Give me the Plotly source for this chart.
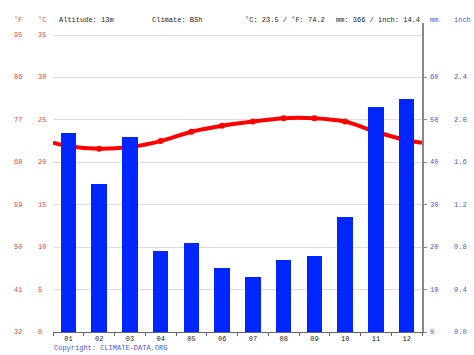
import plotly.graph_objects as go

months = ["01", "02", "03", "04", "05", "06", "07", "08", "09", "10", "11", "12"]
precip_mm = [47, 35, 46, 19, 21, 15, 13, 17, 18, 27, 53, 55]
temp_c = [21.9, 21.6, 21.8, 22.5, 23.6, 24.3, 24.8, 25.2, 25.2, 24.8, 23.6, 22.6]
temp_edge_c = [22.3, 22.3]  # line value read at the left and right plot edges

c_ticks = [0, 5, 10, 15, 20, 25, 30, 35]
f_labels = ["32", "41", "50", "59", "68", "77", "86", "95"]
mm_ticks = [0, 10, 20, 30, 40, 50, 60]
inch_labels = ["0.0", "0.4", "0.8", "1.2", "1.6", "2.0", "2.4"]

header = [
    ("°F", 13, "#e3444a"),
    ("°C", 37, "#e3444a"),
    ("Altitude: 13m", 58, "#222222"),
    ("Climate: BSh", 151, "#222222"),
    ("°C: 23.5 / °F: 74.2", 244, "#222222"),
    ("mm: 366 / inch: 14.4", 335, "#222222"),
    ("mm", 429, "#4a55dd"),
    ("inch", 453, "#4a55dd"),
]

W, H = 474, 355
L, R, T, B = 53, 52, 23, 23
PW, PH = W - L - R, H - T - B
C_TOP = PH / (297 / 35)  # degrees C at top of plot area
MM_TOP = C_TOP * 2

FONT = "Liberation Mono, DejaVu Sans Mono, monospace"
RED = "#e3444a"
BLUE = "#4a55dd"


def px_x(x):
    return (x - L) / PW


def px_y(y):
    return (H - B - y) / PH


fig = go.Figure()
fig.add_trace(go.Bar(
    x=list(range(12)), y=precip_mm, yaxis="y2", width=0.5,
    marker=dict(color="#0026ff", line=dict(width=0)), showlegend=False,
))
fig.add_trace(go.Scatter(
    x=[-0.5] + list(range(12)) + [11.5],
    y=[temp_edge_c[0]] + temp_c + [temp_edge_c[1]],
    mode="lines", line=dict(color="#ff0000", width=4, shape="spline", smoothing=0.8),
    showlegend=False,
))
fig.add_trace(go.Scatter(
    x=list(range(12)), y=temp_c, mode="markers",
    marker=dict(color="#ff0000", size=6), showlegend=False,
))

annotations = []
for v, f in zip(c_ticks, f_labels):
    annotations.append(dict(x=px_x(12), y=v, xref="paper", yref="y", text=f, showarrow=False,
                            xanchor="left", yanchor="middle", font=dict(family=FONT, size=7, color=RED)))
    annotations.append(dict(x=px_x(36), y=v, xref="paper", yref="y", text=str(v), showarrow=False,
                            xanchor="left", yanchor="middle", font=dict(family=FONT, size=7, color=RED)))
for v, i in zip(mm_ticks, inch_labels):
    annotations.append(dict(x=px_x(428), y=v, xref="paper", yref="y2", text=str(v), showarrow=False,
                            xanchor="left", yanchor="middle", font=dict(family=FONT, size=7, color=BLUE)))
    annotations.append(dict(x=px_x(452), y=v, xref="paper", yref="y2", text=i, showarrow=False,
                            xanchor="left", yanchor="middle", font=dict(family=FONT, size=7, color=BLUE)))
for text, x, col in header:
    annotations.append(dict(x=px_x(x - 1), y=px_y(20), xref="paper", yref="paper", text=text, showarrow=False,
                            xanchor="left", yanchor="middle", font=dict(family=FONT, size=7, color=col)))
annotations.append(dict(x=px_x(52), y=px_y(348), xref="paper", yref="paper", text="Copyright: CLIMATE-DATA.ORG",
                        showarrow=False, xanchor="left", yanchor="middle",
                        font=dict(family=FONT, size=7, color=BLUE)))

fig.update_layout(
    width=W, height=H, margin=dict(l=L, r=R, t=T, b=B),
    paper_bgcolor="white", plot_bgcolor="white",
    bargap=0, annotations=annotations,
    xaxis=dict(
        range=[-0.5, 11.5], tickmode="array", tickvals=list(range(12)), ticktext=months,
        ticks="", showgrid=False, zeroline=False, showline=True, linecolor="#666666", linewidth=1,
        tickfont=dict(family=FONT, size=7, color="#222222"),
        minor=dict(ticks="outside", tick0=0.5, dtick=1, ticklen=3, tickcolor="#666666", showgrid=False),
    ),
    yaxis=dict(
        range=[0, C_TOP], tickmode="array", tickvals=c_ticks, showticklabels=False,
        showgrid=True, gridcolor="#dddddd", gridwidth=1, zeroline=False, showline=False, ticks="",
    ),
    yaxis2=dict(
        range=[0, MM_TOP], overlaying="y", side="right", anchor="x", tickmode="array", tickvals=mm_ticks,
        showticklabels=False, showgrid=False, zeroline=False, showline=True, linecolor="#888888",
        linewidth=2, ticks="outside", ticklen=3, tickcolor="#888888",
    ),
)

fig.write_html(
    "out.html",
    config={"displayModeBar": False},
    post_script="document.body.style.margin='0';document.body.style.padding='0';"
                "document.body.style.overflow='hidden';",
)
